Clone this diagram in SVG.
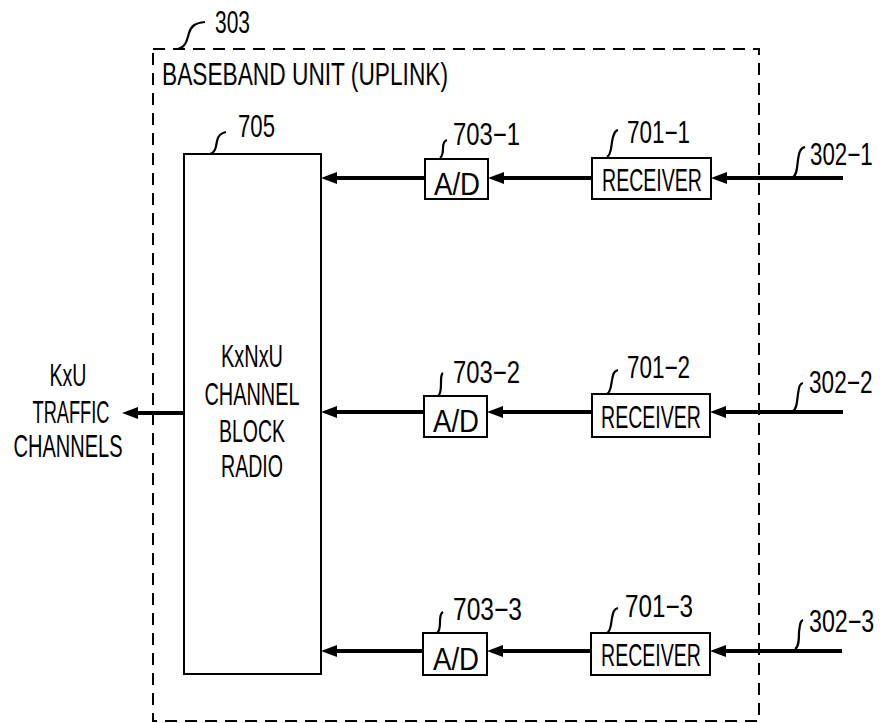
<svg xmlns="http://www.w3.org/2000/svg" width="886" height="723" viewBox="0 0 886 723">
<defs>
<style>
text{font-family:"Liberation Sans",Arial,sans-serif;font-size:31px;fill:#000}
.box{fill:#fff;stroke:#000;stroke-width:2}
.sig{fill:none;stroke:#000;stroke-width:4}
.lead{fill:none;stroke:#000;stroke-width:2.2}
.dash{fill:none;stroke:#000;stroke-width:2;stroke-dasharray:12 8}
</style>
<marker id="ah" viewBox="0 0 16 12" refX="4" refY="6" markerWidth="16" markerHeight="12" markerUnits="userSpaceOnUse" orient="auto">
<path d="M0,0 L16,6 L0,12 z" fill="#000"/>
</marker>
</defs>
<rect width="886" height="723" fill="#fff"/>
<g id="unit303">
<rect class="dash" x="153" y="49" width="606" height="672"/>
<path class="lead" d="M178,49 C186,47 187,40 189,33 C191,26 195,23 205,22"/>
<text x="215" y="33" textLength="35" lengthAdjust="spacingAndGlyphs">303</text>
<text x="162" y="85" textLength="286" lengthAdjust="spacingAndGlyphs">BASEBAND UNIT (UPLINK)</text>
</g>
<g id="connectors">
<line class="sig" x1="843" y1="178" x2="723" y2="178" marker-end="url(#ah)"/>
<line class="sig" x1="592" y1="178" x2="500" y2="178" marker-end="url(#ah)"/>
<line class="sig" x1="425" y1="178" x2="333" y2="178" marker-end="url(#ah)"/>
<line class="sig" x1="843" y1="412" x2="722" y2="412" marker-end="url(#ah)"/>
<line class="sig" x1="592" y1="412" x2="499" y2="412" marker-end="url(#ah)"/>
<line class="sig" x1="424" y1="412" x2="333" y2="412" marker-end="url(#ah)"/>
<line class="sig" x1="842" y1="651" x2="722" y2="651" marker-end="url(#ah)"/>
<line class="sig" x1="591" y1="651" x2="499" y2="651" marker-end="url(#ah)"/>
<line class="sig" x1="423" y1="651" x2="333" y2="651" marker-end="url(#ah)"/>
<line class="sig" x1="184" y1="413" x2="134" y2="413" marker-end="url(#ah)"/>
</g>
<g id="n705">
<rect class="box" x="184" y="154" width="137" height="520"/>
<path class="lead" d="M210,154 C216,152 216,146 217,141 C218,136 220,133 226,132"/>
<text x="238" y="137" textLength="37" lengthAdjust="spacingAndGlyphs">705</text>
<text x="252" y="367" text-anchor="middle" textLength="62" lengthAdjust="spacingAndGlyphs">KxNxU</text>
<text x="252" y="405" text-anchor="middle" textLength="95" lengthAdjust="spacingAndGlyphs">CHANNEL</text>
<text x="252" y="442" text-anchor="middle" textLength="66" lengthAdjust="spacingAndGlyphs">BLOCK</text>
<text x="252" y="477" text-anchor="middle" textLength="62" lengthAdjust="spacingAndGlyphs">RADIO</text>
</g>
<g id="output">
<text x="68" y="386" text-anchor="middle" textLength="37" lengthAdjust="spacingAndGlyphs">KxU</text>
<text x="71" y="423" text-anchor="middle" textLength="77" lengthAdjust="spacingAndGlyphs">TRAFFIC</text>
<text x="68" y="457" text-anchor="middle" textLength="109" lengthAdjust="spacingAndGlyphs">CHANNELS</text>
</g>
<g id="ad1">
<rect class="box" x="425" y="159" width="63" height="40"/>
<path class="lead" d="M440,158 C443,156 443,152 443,148 C443,144 444,141 447,140"/>
<text x="453" y="145" textLength="67" lengthAdjust="spacingAndGlyphs">703−1</text>
<text x="457" y="195" text-anchor="middle" textLength="46" lengthAdjust="spacingAndGlyphs">A/D</text>
</g>
<g id="rx1">
<rect class="box" x="592" y="158" width="119" height="41"/>
<path class="lead" d="M607,157 C611,155 611,148 612,142 C613,136 614,131 618,130"/>
<text x="627" y="143" textLength="63" lengthAdjust="spacingAndGlyphs">701−1</text>
<text x="652" y="191" text-anchor="middle" textLength="100" lengthAdjust="spacingAndGlyphs">RECEIVER</text>
</g>
<g id="in1">
<path class="lead" d="M793,177 C797,175 797,167 798,160 C799,153 800,148 805,147"/>
<text transform="translate(810,165) scale(0.72,1)" x="0" y="0">302−1</text>
</g>
<g id="ad2">
<rect class="box" x="424" y="396" width="63" height="41"/>
<path class="lead" d="M438,396 C441,394 441,389 441,384 C441,378 441,374 443,373"/>
<text x="453" y="383" textLength="67" lengthAdjust="spacingAndGlyphs">703−2</text>
<text x="456" y="432" text-anchor="middle" textLength="46" lengthAdjust="spacingAndGlyphs">A/D</text>
</g>
<g id="rx2">
<rect class="box" x="592" y="394" width="118" height="43"/>
<path class="lead" d="M607,394 C611,392 611,385 612,380 C613,374 614,371 618,370"/>
<text x="627" y="378" textLength="63" lengthAdjust="spacingAndGlyphs">701−2</text>
<text x="651" y="428" text-anchor="middle" textLength="100" lengthAdjust="spacingAndGlyphs">RECEIVER</text>
</g>
<g id="in2">
<path class="lead" d="M793,411 C797,409 797,401 798,394 C799,388 799,384 803,383"/>
<text transform="translate(809,393) scale(0.73,1)" x="0" y="0">302−2</text>
</g>
<g id="ad3">
<rect class="box" x="423" y="633" width="64" height="42"/>
<path class="lead" d="M437,633 C440,631 440,626 440,622 C440,617 441,613 443,612"/>
<text x="453" y="620" textLength="69" lengthAdjust="spacingAndGlyphs">703−3</text>
<text x="456" y="670" text-anchor="middle" textLength="46" lengthAdjust="spacingAndGlyphs">A/D</text>
</g>
<g id="rx3">
<rect class="box" x="591" y="633" width="119" height="42"/>
<path class="lead" d="M607,633 C611,631 611,624 612,618 C613,612 614,609 618,608"/>
<text x="625" y="617" textLength="68" lengthAdjust="spacingAndGlyphs">701−3</text>
<text x="651" y="666" text-anchor="middle" textLength="100" lengthAdjust="spacingAndGlyphs">RECEIVER</text>
</g>
<g id="in3">
<path class="lead" d="M795,649 C799,647 799,639 799,632 C800,625 800,621 803,620"/>
<text transform="translate(809,632) scale(0.75,1)" x="0" y="0">302−3</text>
</g>
</svg>
